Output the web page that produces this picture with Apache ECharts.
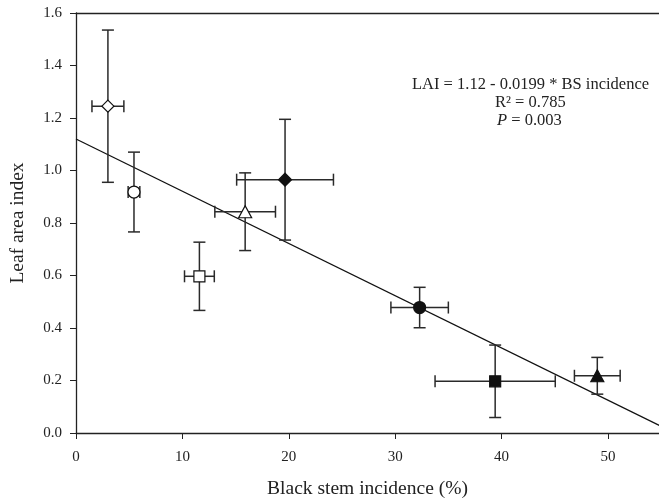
<!DOCTYPE html>
<html>
<head>
<meta charset="utf-8">
<script src="https://cdn.jsdelivr.net/npm/echarts@6/dist/echarts.min.js"></script>
<style>
  html, body { margin: 0; padding: 0; background: #fff; }
  #chart { width: 659px; height: 504px; }
</style>
</head>
<body>
<div id="chart"></div>
<script>
// treatment means (BS incidence %, LAI) with standard errors
const treatments = ['open diamond', 'open circle', 'open square', 'open triangle', 'filled diamond', 'filled circle', 'filled square', 'filled triangle']
const bsIncidence = [3.0, 5.45, 11.6, 15.9, 19.65, 32.3, 39.4, 49.0]
const laiValues = [1.245, 0.918, 0.597, 0.843, 0.965, 0.478, 0.197, 0.218]
const bsError = [1.5, 0.55, 1.4, 2.85, 4.55, 2.7, 5.65, 2.15]
const laiError = [0.29, 0.152, 0.13, 0.148, 0.23, 0.077, 0.138, 0.07]

// regression: LAI = 1.12 - 0.0199 * BS incidence
const intercept = 1.12
const slope = -0.0199
const fitRange = [0, 55]

const xTicks = [0, 10, 20, 30, 40, 50]

// marker look for each treatment
const markerStyles = [
  { symbol: 'diamond', size: [12, 12], fill: '#fff' },
  { symbol: 'circle', size: 12, fill: '#fff' },
  { symbol: 'rect', size: 11, fill: '#fff' },
  { symbol: 'triangle', size: [13, 12], fill: '#fff' },
  { symbol: 'diamond', size: [13, 13], fill: '#111' },
  { symbol: 'circle', size: 12, fill: '#111' },
  { symbol: 'rect', size: 11, fill: '#111' },
  { symbol: 'triangle', size: [13, 12], fill: '#111' }
]

const font = '"Liberation Serif", "DejaVu Serif", serif'
const chart = echarts.init(document.getElementById('chart'))

const points = bsIncidence.map((x, i) => [x, laiValues[i], bsError[i], laiError[i]])

const scatterData = points.map((p, i) => ({
  name: treatments[i],
  value: [p[0], p[1]],
  symbol: markerStyles[i].symbol,
  symbolSize: markerStyles[i].size,
  itemStyle: { color: markerStyles[i].fill, borderColor: '#111', borderWidth: 1.2, opacity: 1 }
}))

const fitData = fitRange.map(x => [x, intercept + slope * x])

function renderErrorBars(params, api) {
  const x = api.value(0)
  const y = api.value(1)
  const ex = api.value(2)
  const ey = api.value(3)
  const left = api.coord([x - ex, y])
  const right = api.coord([x + ex, y])
  const top = api.coord([x, y + ey])
  const bottom = api.coord([x, y - ey])
  const cap = 6
  const style = { stroke: '#2a2a2a', lineWidth: 1.5 }
  const line = (x1, y1, x2, y2) => ({ type: 'line', shape: { x1, y1, x2, y2 }, style })
  return {
    type: 'group',
    children: [
      line(left[0], left[1], right[0], right[1]),
      line(left[0], left[1] - cap, left[0], left[1] + cap),
      line(right[0], right[1] - cap, right[0], right[1] + cap),
      line(top[0], top[1], bottom[0], bottom[1]),
      line(top[0] - cap, top[1], top[0] + cap, top[1]),
      line(bottom[0] - cap, bottom[1], bottom[0] + cap, bottom[1])
    ]
  }
}

chart.setOption({
  animation: false,
  grid: { left: 76, right: 0, top: 13, bottom: 69 },
  xAxis: [
    {
      type: 'value',
      min: 0,
      max: 54.8,
      interval: 10,
      name: 'Black stem incidence (%)',
      nameLocation: 'middle',
      nameGap: 46,
      nameTextStyle: { fontFamily: font, fontSize: 19.5, color: '#222' },
      axisLine: { show: true, onZero: false, lineStyle: { color: '#222', width: 1.3 } },
      axisTick: { show: true, length: 6, customValues: xTicks, lineStyle: { color: '#222' } },
      axisLabel: { fontFamily: font, fontSize: 15, color: '#222', margin: 17, customValues: xTicks },
      splitLine: { show: false }
    },
    {
      type: 'value',
      position: 'top',
      min: 0,
      max: 54.8,
      axisLine: { show: true, onZero: false, lineStyle: { color: '#222', width: 1.3 } },
      axisTick: { show: false },
      axisLabel: { show: false },
      splitLine: { show: false }
    }
  ],
  yAxis: {
    type: 'value',
    min: 0,
    max: 1.6,
    interval: 0.2,
    name: 'Leaf area index',
    nameLocation: 'middle',
    nameGap: 48,
    nameTextStyle: { fontFamily: font, fontSize: 19.5, color: '#222' },
    axisLine: { show: true, lineStyle: { color: '#222', width: 1.3 } },
    axisTick: { show: true, length: 6, lineStyle: { color: '#222' } },
    axisLabel: { fontFamily: font, fontSize: 15, color: '#222', margin: 14, formatter: v => v.toFixed(1) },
    splitLine: { show: false }
  },
  graphic: [
    {
      type: 'text',
      left: 412,
      top: 76,
      style: {
        text: 'LAI = 1.12 - 0.0199 * BS incidence',
        font: '16.5px ' + font,
        fill: '#222'
      }
    },
    {
      type: 'text',
      left: 495,
      top: 94,
      style: { text: 'R² = 0.785', font: '16.5px ' + font, fill: '#222' }
    },
    {
      type: 'text',
      left: 497,
      top: 112,
      style: {
        text: '{i|P} = 0.003',
        font: '16.5px ' + font,
        fill: '#222',
        rich: { i: { fontStyle: 'italic', fontFamily: font, fontSize: 16.5, fill: '#222' } }
      }
    }
  ],
  series: [
    {
      type: 'line',
      data: fitData,
      symbol: 'none',
      clip: true,
      lineStyle: { color: '#111', width: 1.3 },
      z: 1
    },
    {
      type: 'custom',
      data: points,
      renderItem: renderErrorBars,
      encode: { x: 0, y: 1 },
      z: 2
    },
    {
      type: 'scatter',
      data: scatterData,
      z: 3
    }
  ]
})

window.addEventListener('resize', () => chart.resize())
</script>
</body>
</html>
